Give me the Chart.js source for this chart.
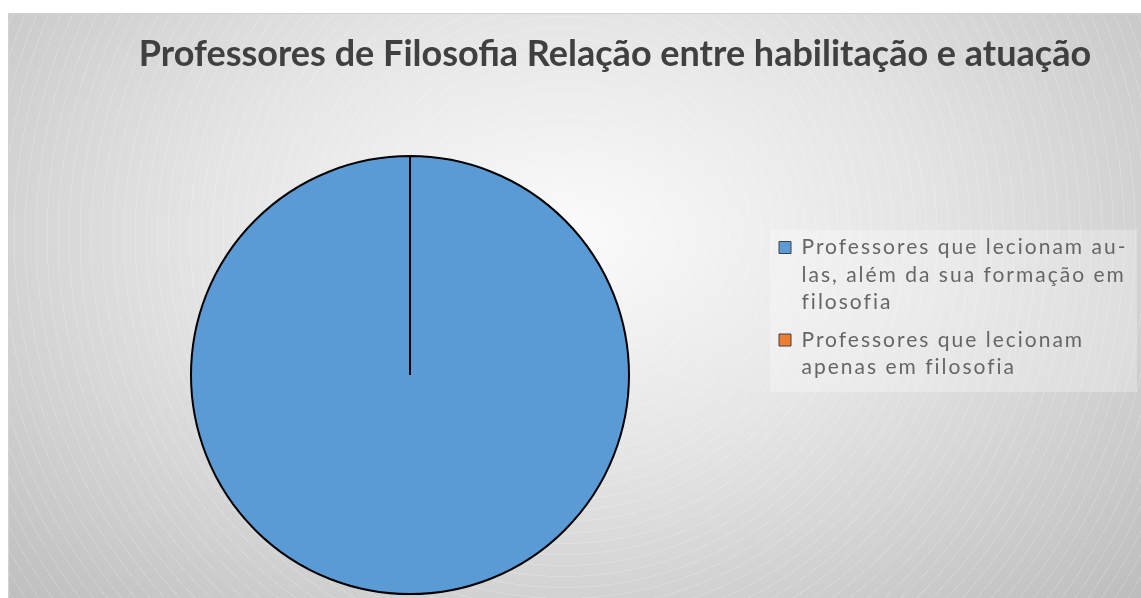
<!DOCTYPE html>
<html>
<head>
<meta charset="utf-8">
<script src="https://cdn.jsdelivr.net/npm/chart.js@4/dist/chart.umd.min.js"></script>
<style>
  html, body { margin: 0; padding: 0; background: #fff; }
  #frame {
    position: absolute; left: 8px; top: 13px; width: 1133px; height: 585px;
    box-sizing: border-box;
    border-top: 1px solid #d2d2d2; border-left: 1px solid #d2d2d2;
    background:
      repeating-radial-gradient(circle at 49% 38%, rgba(255,255,255,0) 0 10px, rgba(255,255,255,0.18) 10px 11px),
      radial-gradient(ellipse farthest-corner at 49% 38%, #fbfbfb 0%, #e4e4e4 45%, #bdbdbd 100%);
  }
  canvas { display: block; }
</style>
</head>
<body>
<div id="frame"><canvas id="pie-chart" width="1132" height="584"></canvas></div>
<script>
// Chart data
const chartTitle = 'Professores de Filosofia Relação entre habilitação e atuação';
const categories = [
  'Professores que lecionam aulas, além da sua formação em filosofia',
  'Professores que lecionam apenas em filosofia'
];
// legend text as it wraps in the original
const legendLines = [
  ['Professores que lecionam au-', 'las, além da sua formação em', 'filosofia'],
  ['Professores que lecionam', 'apenas em filosofia']
];
const values = [100, 0];
const sliceColors = ['#5B9BD5', '#ED7D31'];

const LEGEND_WIDTH = 372;
const LEGEND_SPACING = '2px';
const TEXT_COLOR = '#404040';

// Small tweaks: letter spacing + fixed width for legend, legend backdrop, title offset
const layoutTweaks = {
  id: 'layoutTweaks',
  beforeInit(chart) {
    const legend = chart.legend;
    const spaced = (fn) => function(...args) {
      const ctx = this.ctx;
      const old = ctx.letterSpacing;
      ctx.letterSpacing = LEGEND_SPACING;
      const res = fn.apply(this, args);
      ctx.letterSpacing = old;
      return res;
    };
    const fit = spaced(legend.fit);
    legend.fit = function() {
      fit.call(this);
      this.width = LEGEND_WIDTH;
    };
    legend.draw = spaced(legend.draw);
  },
  afterLayout(chart) {
    // original title is centred a bit right of the canvas centre
    chart.titleBlock.left = 80;
  },
  beforeDraw(chart) {
    const lg = chart.legend;
    const ctx = chart.ctx;
    ctx.save();
    ctx.fillStyle = 'rgba(255,255,255,0.28)';
    ctx.fillRect(lg.left + 1, lg.top + 216, lg.width - 5, 162);
    ctx.restore();
  }
};

const ctx = document.getElementById('pie-chart').getContext('2d');

const pieChart = new Chart(ctx, {
  type: 'pie',
  data: {
    labels: categories,
    datasets: [{
      data: values,
      backgroundColor: sliceColors,
      borderColor: '#000000',
      borderWidth: 2,
      radius: 219
    }]
  },
  options: {
    responsive: false,
    animation: false,
    events: [],
    layout: {
      padding: { left: 42, right: 0, top: 0, bottom: 0 }
    },
    plugins: {
      title: {
        display: true,
        text: chartTitle,
        color: TEXT_COLOR,
        font: { family: 'Lato', size: 36, weight: 'bold', lineHeight: 1.2 },
        padding: { top: 19, bottom: 76 }
      },
      legend: {
        display: true,
        position: 'right',
        align: 'start',
        title: {
          display: true,
          text: '',
          font: { size: 10, lineHeight: 1.2 },
          padding: { top: 201, bottom: 0 }
        },
        labels: {
          color: TEXT_COLOR,
          font: { family: 'Lato', size: 21, lineHeight: 27.5 / 21 },
          boxWidth: 12,
          boxHeight: 12,
          padding: 10,
          generateLabels: () => categories.map((name, i) => ({
            text: legendLines[i],
            fillStyle: sliceColors[i],
            strokeStyle: TEXT_COLOR,
            lineWidth: 1,
            hidden: false,
            index: i
          }))
        }
      },
      tooltip: { enabled: false }
    }
  },
  plugins: [layoutTweaks]
});
</script>
</body>
</html>
